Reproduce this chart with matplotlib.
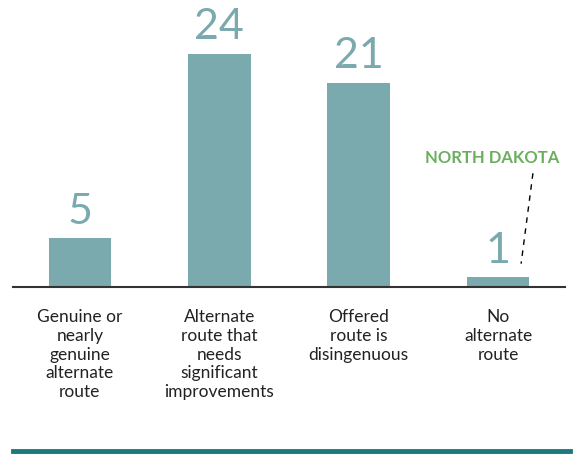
import matplotlib.pyplot as plt
from matplotlib.lines import Line2D
import matplotlib.transforms as mtransforms

categories = ["Genuine or\nnearly\ngenuine\nalternate\nroute",
              "Alternate\nroute that\nneeds\nsignificant\nimprovements",
              "Offered\nroute is\ndisingenuous",
              "No\nalternate\nroute"]
values = [5, 24, 21, 1]
highlight = "NORTH DAKOTA"

bar_color = "#7aa9ae"
plt.rcParams['font.family'] = ['Lato', 'DejaVu Sans']

fig = plt.figure(figsize=(5.83, 4.56), dpi=100)
ax = fig.add_axes([13/583, 1-288/456, 552/583, 278/456])

x = list(range(len(values)))
ax.bar(x, values, width=0.45, color=bar_color)
for xi, v in zip(x, values):
    ax.text(xi, v + 0.9, str(v), ha='center', va='bottom', fontsize=31,
            color=bar_color)

ax.set_xlim(-0.48, 3.48)
ax.set_ylim(0, 28.6)
for s in ['top', 'right', 'left']:
    ax.spines[s].set_visible(False)
ax.spines['bottom'].set_color('#333333')
ax.spines['bottom'].set_linewidth(1.5)
ax.set_xticks([])
ax.set_yticks([])

trans = mtransforms.blended_transform_factory(ax.transData, ax.transAxes)
for xi, c in zip(x, categories):
    ax.text(xi, -0.075, c, ha='center', va='top', fontsize=12.5, color='#222222',
            transform=trans, linespacing=1.22)

# North Dakota annotation
ax.text(3.0 - 0.04, 13.4, highlight, ha='center', va='center', fontsize=12,
        fontweight='bold', color='#6aaf5e')
ax.plot([3.25, 3.165], [11.7, 2.4], color='black', linestyle=(0, (4, 4)), linewidth=1)

# bottom rule
fig.add_artist(Line2D([13/583, 570/583], [1-452/456, 1-452/456], color='#1a7a7e',
                      linewidth=3.5, transform=fig.transFigure))

fig.savefig("out.png", dpi=100)
